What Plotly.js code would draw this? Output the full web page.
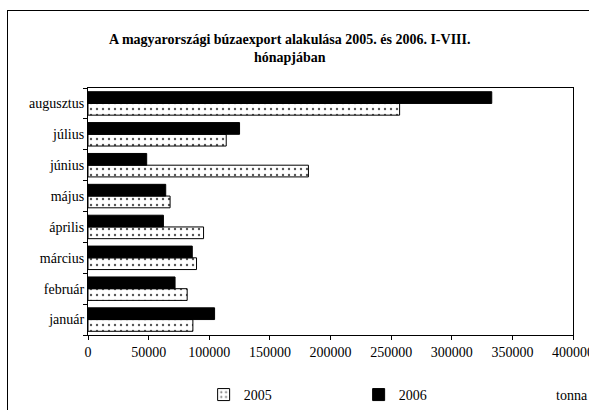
<!DOCTYPE html>
<html>
<head>
<meta charset="utf-8">
<script src="https://cdn.plot.ly/plotly-3.0.1.min.js"></script>
<style>
html,body{margin:0;padding:0;background:#fff;}
#wrap{position:relative;width:589px;height:410px;overflow:hidden;}
#chart{width:589px;height:410px;}
#frame{position:absolute;left:7px;top:10px;width:700px;height:500px;border-left:1.5px solid #000;border-top:1.5px solid #000;pointer-events:none;}
</style>
</head>
<body>
<div id="wrap"><div id="chart"></div><div id="frame"></div></div>
<script>
const months = ["január", "február", "március", "április", "május", "június", "július", "augusztus"];
const values2005 = [86500, 81800, 89500, 95300, 67700, 181800, 114000, 257000];
const values2006 = [104400, 71800, 86000, 62200, 64100, 48400, 125000, 333000];
const xTicks = [0, 50000, 100000, 150000, 200000, 250000, 300000, 350000, 400000];
const seriesNames = ["2005", "2006"];

const serif = "Liberation Serif";

const traces = [
  {
    type: "bar", orientation: "h", name: seriesNames[0],
    y: months, x: values2005,
    marker: {
      color: "white",
      line: {color: "black", width: 1},
      pattern: {shape: ".", fgcolor: "#555", bgcolor: "white", size: 6, solidity: 0.12}
    }
  },
  {
    type: "bar", orientation: "h", name: seriesNames[1],
    y: months, x: values2006,
    marker: {color: "black", line: {color: "black", width: 1}}
  }
];

const layout = {
  width: 589, height: 410,
  paper_bgcolor: "white", plot_bgcolor: "white",
  margin: {l: 88, r: 16, t: 88, b: 75, autoexpand: false},
  barmode: "group", bargap: 0.24, bargroupgap: 0,
  font: {family: serif, size: 14, color: "black"},
  title: {
    text: "<b>A magyarországi búzaexport alakulása 2005. és 2006. I-VIII.<br>hónapjában</b>",
    font: {family: serif, size: 14, color: "black"},
    x: 0.492, xanchor: "center", y: 0.893, yanchor: "top"
  },
  xaxis: {
    range: [0, 400000], tickvals: xTicks, ticktext: xTicks.map(String),
    showgrid: false, zeroline: false,
    showline: true, linecolor: "black", linewidth: 1, mirror: true,
    ticks: "outside", ticklen: 4, tickcolor: "black", ticklabeloverflow: "allow",
    tickfont: {family: serif, size: 14, color: "black"}
  },
  yaxis: {
    type: "category", categoryorder: "array", categoryarray: months,
    showgrid: false, zeroline: false,
    showline: true, linecolor: "black", linewidth: 1, mirror: true,
    ticks: "outside", ticklen: 4, tickcolor: "black", tickson: "boundaries",
    tickfont: {family: serif, size: 14, color: "black"}
  },
  showlegend: true,
  legend: {
    orientation: "h", x: 0.558, xanchor: "center", y: -0.178, yanchor: "top",
    font: {family: serif, size: 14, color: "black"},
    entrywidth: 110, itemwidth: 30, traceorder: "normal"
  },
  annotations: [
    {text: "tonna", xref: "paper", yref: "paper", x: 1.035, y: -0.243, xanchor: "right", yanchor: "middle",
     showarrow: false, font: {family: serif, size: 14, color: "black"}}
  ]
};

Plotly.newPlot("chart", traces, layout, {displayModeBar: false, staticPlot: true});
</script>
</body>
</html>
